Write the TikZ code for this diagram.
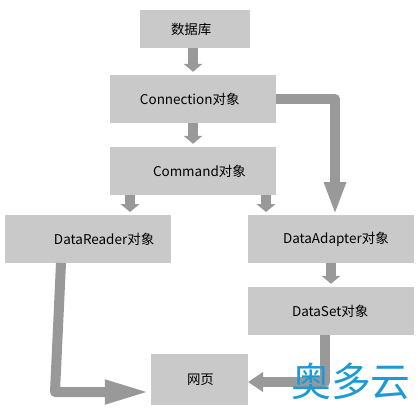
\documentclass[tikz,border=0pt]{standalone}
\usepackage{fontspec}
\setmainfont{Noto Sans CJK SC}
\usepackage{tikz}
\usetikzlibrary{arrows.meta}
\definecolor{boxgray}{HTML}{C9C9C9}
\definecolor{arrowgray}{HTML}{999999}
\definecolor{markblue}{HTML}{1C9AD6}
\tikzset{
    flowbox/.style={fill=boxgray, inner sep=0pt, minimum height=1.44cm, text width=4.98cm, align=left, font=\fontsize{11.5}{14}\selectfont},
    flowarrow/.style={draw=arrowgray, line width=0.3cm, line join=round, -{Triangle[length=0.24cm, width=0.56cm]}, shorten >=0.09cm},
    bigarrow/.style={flowarrow, -{Triangle[length=0.99cm, width=0.6cm]}, shorten >=0pt}
}
\begin{document}
\begin{tikzpicture}[x=0.03cm, y=-0.03cm]
    \useasboundingbox (0,0) rectangle (419,410);
    % boxes
    \node[flowbox, text width=3.3cm, minimum height=1.14cm] (db) at (195,29) {\hspace*{0.93cm}数据库};
    \node[flowbox] (conn) at (193,99) {\hspace*{0.9cm}Connection对象};
    \node[flowbox] (cmd) at (193,171) {\hspace*{1.29cm}\raisebox{-0.06cm}[0.3cm][0.1cm]{Command对象}};
    \node[flowbox] (reader) at (88,239) {\hspace*{1.47cm}\raisebox{-0.06cm}[0.3cm][0.1cm]{DataReader对象}};
    \node[flowbox] (adapter) at (331,239) {\hspace*{1.05cm}DataAdapter对象};
    \node[flowbox] (dataset) at (331,311) {\hspace*{1.32cm}DataSet对象};
    \node[flowbox, text width=2.91cm, minimum height=1.53cm] (web) at (199.5,379.5) {\hspace*{1.08cm}网页};
    % bend points
    \coordinate (readerin) at (130,215);
    \coordinate (adapterleft) at (266,215);
    \coordinate (adapterin) at (335,215);
    \coordinate (readerout) at (61,263);
    \coordinate (readerbend) at (55,392);
    \coordinate (setout) at (325,335);
    \coordinate (webright) at (248,382);
    % straight arrows
    \draw[flowarrow] (conn.north |- db.south) -- (conn.north);
    \draw[flowarrow] (conn) -- (cmd);
    \draw[flowarrow] (readerin |- cmd.south) -- (readerin);
    \draw[flowarrow] (adapterleft |- cmd.south) -- (adapterleft);
    \draw[flowarrow] (adapter) -- (dataset);
    % bent arrows
    \draw[bigarrow] (conn.east) -- (adapterin |- conn.east) -- (adapterin);
    \draw[bigarrow, -{Triangle[length=1.38cm, width=0.66cm]}] (readerout) -- (readerbend) -- (web.west |- readerbend);
    \draw[flowarrow, -{Triangle[length=0.45cm, width=0.57cm]}, shorten >=0pt] (setout) |- (webright);
    % watermark
    \node[text=markblue, font=\fontsize{34}{34}\selectfont, inner sep=0pt] (mark) at (351,381) {奥多云};
\end{tikzpicture}
\end{document}
